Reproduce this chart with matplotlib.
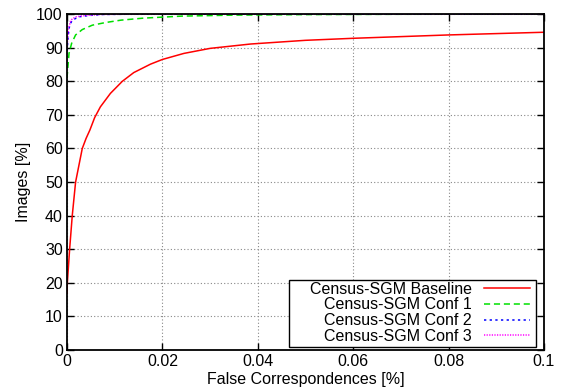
import matplotlib.pyplot as plt
from matplotlib.patches import Rectangle
import numpy as np

plt.rcParams['font.family'] = ['Liberation Sans', 'DejaVu Sans']
plt.rcParams['font.size'] = 11.5

red_x = [0, 0.00007, 0.00055, 0.0011, 0.0018, 0.0032, 0.004, 0.0048, 0.0058, 0.007,
         0.0091, 0.0116, 0.014, 0.0175, 0.02, 0.0245, 0.03, 0.0385, 0.05, 0.06,
         0.07, 0.08, 0.09, 0.1]
red_y = [16.9, 20, 30, 40, 50, 60, 63, 65.5, 69.2, 72.4,
         76.4, 80, 82.6, 85.1, 86.5, 88.3, 89.8, 91.1, 92.2, 92.8,
         93.3, 93.8, 94.2, 94.6]

green_x = [0, 0.00042, 0.00097, 0.0018, 0.0032, 0.0053, 0.0081, 0.0113, 0.016, 0.024,
           0.035, 0.05, 0.07, 0.1]
green_y = [81.0, 88.3, 91.3, 93.8, 95.4, 96.7, 97.5, 98.2, 98.8, 99.4,
           99.7, 99.85, 99.95, 100]

blue_x = [0, 0.0003, 0.00055, 0.0011, 0.0025, 0.0046, 0.0075, 0.015, 0.1]
blue_y = [89, 94.2, 96.7, 98.2, 99.2, 99.6, 99.9, 100, 100]

magenta_x = [0, 0.0003, 0.0008, 0.0018, 0.004, 0.007, 0.015, 0.1]
magenta_y = [90, 95.5, 98.2, 99.2, 99.6, 99.9, 100, 100]

labels = ['Census-SGM Baseline', 'Census-SGM Conf 1', 'Census-SGM Conf 2', 'Census-SGM Conf 3']

fig = plt.figure(figsize=(5.64, 3.92), dpi=100)
ax = fig.add_axes([0.1188, 0.107, 0.8457, 0.857])

ax.plot(red_x, red_y, color='#ff0000', lw=1.1, label=labels[0])
ax.plot(green_x, green_y, color='#00e000', lw=1.1, dashes=(4, 2.5), label=labels[1])
ax.plot(blue_x, blue_y, color='#0000ff', lw=1.1, dashes=(1.5, 2.2), label=labels[2])
ax.plot(magenta_x, magenta_y, color='#ff00ff', lw=1.1, dashes=(0.8, 0.9), label=labels[3])

ax.set_xlim(0, 0.1)
ax.set_ylim(0, 100)
ax.set_xticks(np.arange(0, 0.101, 0.02))
ax.set_xticklabels(['0', '0.02', '0.04', '0.06', '0.08', '0.1'])
ax.set_yticks(np.arange(0, 101, 10))
ax.tick_params(direction='in', length=5, width=1, top=True, right=True, pad=3)
ax.grid(True, color='#888888', linestyle=(0, (1, 2)), linewidth=0.8)
for s in ax.spines.values():
    s.set_linewidth(1.3)

ax.set_xlabel('False Correspondences [%]', labelpad=2)
ax.set_ylabel('Images [%]', labelpad=4)

# markerfirst=False puts the lines on the right and right-aligns the rows
leg = ax.legend(loc='lower right', bbox_to_anchor=(1 - 14 / 477, 6 / 336),
                markerfirst=False, frameon=False, handlelength=2.85,
                labelspacing=0.05, borderpad=0, handletextpad=0.8, borderaxespad=0)

# gnuplot-style key box: wider on the left than on the right
fig.canvas.draw()
bb = leg.get_window_extent()
box = Rectangle((bb.x0 - 21, bb.y0 - 3), bb.width + 27, bb.height + 5,
                transform=None, fill=True, facecolor='white', edgecolor='black',
                linewidth=1.0, zorder=4)
ax.add_artist(box)
leg.set_zorder(5)

plt.savefig('out.png', format='png')
